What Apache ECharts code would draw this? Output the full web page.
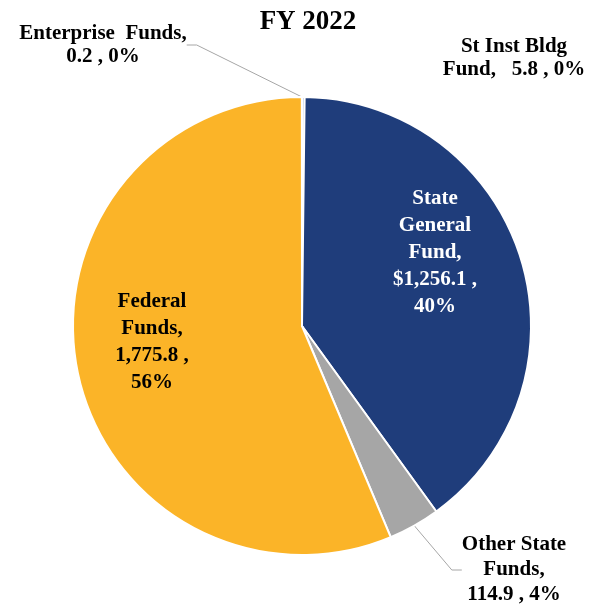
<!DOCTYPE html>
<html><head><meta charset="utf-8">
<script src="https://cdn.jsdelivr.net/npm/echarts@6/dist/echarts.min.js"></script>
<style>html,body{margin:0;padding:0;background:#fff}#c{width:597px;height:614px}</style>
</head><body><div id="c"></div>
<script>
const title = 'FY 2022';
const categories = ['St Inst Bldg Fund', 'State General Fund', 'Other State Funds', 'Federal Funds', 'Enterprise Funds'];
const values = [5.8, 1256.1, 114.9, 1775.8, 0.2];
const colors = ['#8FA8D0', '#1F3D7B', '#A6A6A6', '#FBB428', '#6E9BD1'];

function fmtNum(v){ return v.toLocaleString('en-US',{minimumFractionDigits:1,maximumFractionDigits:1}); }
function labelText(p){
  const v = fmtNum(p.value), pc = p.percent + '%';
  switch(p.dataIndex){
    case 0: return 'St Inst Bldg\nFund,   ' + v + ' , ' + pc;
    case 1: return 'State\nGeneral\nFund,\n$' + v + ' ,\n' + pc;
    case 2: return 'Other State\nFunds,\n' + v + ' , ' + pc;
    case 3: return 'Federal\nFunds,\n' + v + ' ,\n' + pc;
    default: return 'Enterprise  Funds,\n' + v + ' , ' + pc;
  }
}
const labelPos = {0:[514,58],1:[435,253],2:[514,570],3:[152,342],4:[103,45]};

const chart = echarts.init(document.getElementById('c'));
chart.setOption({
  animation:false,
  title:{text:title,left:303,top:4,textAlign:'center',textStyle:{fontFamily:'Liberation Serif',fontWeight:'bold',fontSize:27,color:'#000'}},
  series:[{
    type:'pie',
    center:[302,326],
    radius:229,
    startAngle:90,
    clockwise:true,
    avoidLabelOverlap:false,
    percentPrecision:0,
    itemStyle:{borderColor:'#fff',borderWidth:2},
    label:{formatter:labelText,fontFamily:'Liberation Serif',fontWeight:'bold',fontSize:21,lineHeight:26,color:'#000',align:'center'},
    labelLine:{lineStyle:{color:'#A6A6A6',width:1},length:10,length2:10},
    labelLayout:function(params){
      const p = labelPos[params.dataIndex];
      return {x:p[0],y:p[1],align:'center',verticalAlign:'middle'};
    },
    data:categories.map((c,i)=>{
      const d = {name:c,value:values[i],itemStyle:{color:colors[i]}};
      if(i===1){ d.label={position:'inside',color:'#fff',lineHeight:27}; d.labelLine={show:false}; }
      if(i===3){ d.label={position:'inside',color:'#000',lineHeight:27}; d.labelLine={show:false}; }
      if(i===0){ d.label={lineHeight:23}; d.labelLine={show:false}; }
      if(i===4){ d.label={lineHeight:23}; }
      if(i===2){ d.label={lineHeight:25}; }
      return d;
    })
  }]
});
</script></body></html>
